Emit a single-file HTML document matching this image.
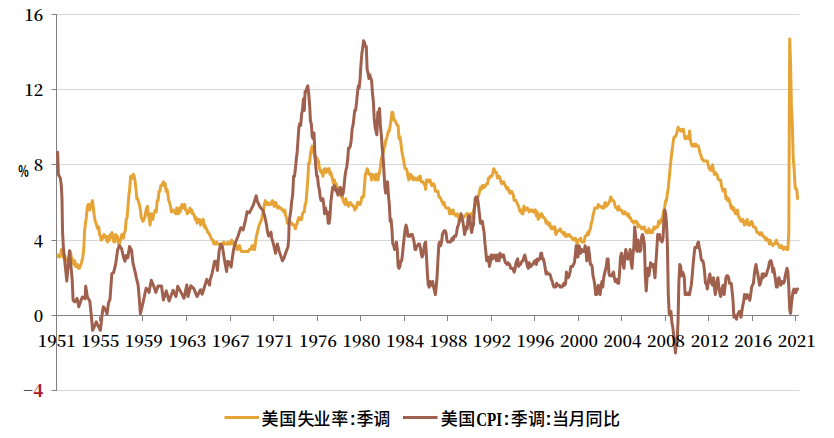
<!DOCTYPE html>
<html><head><meta charset="utf-8"><style>
html,body{margin:0;padding:0;background:#fff;}
body{width:834px;height:438px;overflow:hidden;}
svg{display:block;}
.num{font-family:"Noto Serif CJK SC","Liberation Serif",serif;font-size:16.6px;font-weight:600;fill:#000;}
.lc{font-family:"Liberation Sans","Noto Sans CJK SC",sans-serif;font-size:17px;font-weight:500;fill:#000;}
.ll{font-family:"Liberation Serif","Noto Serif CJK SC",serif;font-size:19.5px;font-weight:bold;fill:#000;}
.colon{font-weight:bold;font-size:18px;}
</style></head><body>
<svg width="834" height="438" viewBox="0 0 834 438">
<rect width="834" height="438" fill="#fff"/>
<line x1="57" y1="14.5" x2="799.5" y2="14.5" stroke="#D6D6D6"/><line x1="57" y1="89.5" x2="799.5" y2="89.5" stroke="#D6D6D6"/><line x1="57" y1="164.5" x2="799.5" y2="164.5" stroke="#D6D6D6"/><line x1="57" y1="240.5" x2="799.5" y2="240.5" stroke="#D6D6D6"/><line x1="57" y1="390.5" x2="799.5" y2="390.5" stroke="#D6D6D6"/><line x1="56.5" y1="14" x2="56.5" y2="391" stroke="#808080"/><line x1="56" y1="315.5" x2="799" y2="315.5" stroke="#808080"/><line x1="51.5" y1="14.5" x2="56.5" y2="14.5" stroke="#808080"/><line x1="51.5" y1="89.5" x2="56.5" y2="89.5" stroke="#808080"/><line x1="51.5" y1="164.5" x2="56.5" y2="164.5" stroke="#808080"/><line x1="51.5" y1="240.5" x2="56.5" y2="240.5" stroke="#808080"/><line x1="51.5" y1="315.5" x2="56.5" y2="315.5" stroke="#808080"/><line x1="51.5" y1="390.5" x2="56.5" y2="390.5" stroke="#808080"/><line x1="99.5" y1="315.5" x2="99.5" y2="321" stroke="#808080"/><line x1="142.5" y1="315.5" x2="142.5" y2="321" stroke="#808080"/><line x1="186.5" y1="315.5" x2="186.5" y2="321" stroke="#808080"/><line x1="230.5" y1="315.5" x2="230.5" y2="321" stroke="#808080"/><line x1="273.5" y1="315.5" x2="273.5" y2="321" stroke="#808080"/><line x1="317.5" y1="315.5" x2="317.5" y2="321" stroke="#808080"/><line x1="360.5" y1="315.5" x2="360.5" y2="321" stroke="#808080"/><line x1="404.5" y1="315.5" x2="404.5" y2="321" stroke="#808080"/><line x1="447.5" y1="315.5" x2="447.5" y2="321" stroke="#808080"/><line x1="491.5" y1="315.5" x2="491.5" y2="321" stroke="#808080"/><line x1="534.5" y1="315.5" x2="534.5" y2="321" stroke="#808080"/><line x1="578.5" y1="315.5" x2="578.5" y2="321" stroke="#808080"/><line x1="621.5" y1="315.5" x2="621.5" y2="321" stroke="#808080"/><line x1="665.5" y1="315.5" x2="665.5" y2="321" stroke="#808080"/><line x1="708.5" y1="315.5" x2="708.5" y2="321" stroke="#808080"/><line x1="752.5" y1="315.5" x2="752.5" y2="321" stroke="#808080"/><line x1="795.5" y1="315.5" x2="795.5" y2="321" stroke="#808080"/>
<polyline points="58.0,255.1 58.9,257.0 59.8,257.0 60.7,253.3 61.5,249.5 62.4,249.5 63.3,257.0 64.2,255.1 65.1,257.0 66.0,260.8 66.9,260.8 67.7,258.9 68.6,258.9 69.5,255.1 70.4,251.4 71.3,257.0 72.2,258.9 73.1,262.7 73.9,264.5 74.8,260.8 75.7,266.4 76.6,266.4 77.5,264.5 78.4,268.3 79.3,268.3 80.1,266.4 81.0,264.5 81.9,260.8 82.8,257.0 83.7,249.5 84.6,230.7 85.5,223.2 86.3,217.5 87.2,208.1 88.1,204.4 89.0,204.4 89.9,210.0 90.8,206.3 91.7,202.5 92.5,200.6 93.4,208.1 94.3,215.7 95.2,221.3 96.1,223.2 97.0,226.9 97.9,228.8 98.7,226.9 99.6,234.5 100.5,236.3 101.4,240.1 102.3,236.3 103.2,238.2 104.1,234.5 104.9,236.3 105.8,236.3 106.7,240.1 107.6,242.0 108.5,236.3 109.4,240.1 110.3,234.5 111.1,234.5 112.0,232.6 112.9,238.2 113.8,242.0 114.7,242.0 115.6,234.5 116.5,236.3 117.3,236.3 118.2,242.0 119.1,245.7 120.0,242.0 120.9,238.2 121.8,234.5 122.7,236.3 123.5,238.2 124.4,232.6 125.3,230.7 126.2,219.4 127.1,217.5 128.0,206.3 128.9,195.0 129.7,189.3 130.6,176.2 131.5,176.2 132.4,178.1 133.3,174.3 134.2,176.2 135.1,181.8 136.0,189.3 136.8,198.7 137.7,198.7 138.6,202.5 139.5,204.4 140.4,210.0 141.3,217.5 142.2,219.4 143.0,221.3 143.9,219.4 144.8,217.5 145.7,211.9 146.6,208.1 147.5,206.3 148.4,215.7 149.2,217.5 150.1,225.1 151.0,213.8 151.9,217.5 152.8,219.4 153.7,213.8 154.6,211.9 155.4,210.0 156.3,211.9 157.2,200.6 158.1,200.6 159.0,191.2 159.9,191.2 160.8,185.6 161.6,185.6 162.5,183.7 163.4,181.8 164.3,185.6 165.2,183.7 166.1,191.2 167.0,189.3 167.8,193.1 168.7,200.6 169.6,202.5 170.5,206.3 171.4,211.9 172.3,210.0 173.2,210.0 174.0,211.9 174.9,211.9 175.8,213.8 176.7,208.1 177.6,210.0 178.5,213.8 179.4,208.1 180.2,211.9 181.1,208.1 182.0,204.4 182.9,208.1 183.8,208.1 184.7,204.4 185.6,210.0 186.4,210.0 187.3,213.8 188.2,211.9 189.1,211.9 190.0,208.1 190.9,211.9 191.8,210.0 192.6,213.8 193.5,213.8 194.4,215.7 195.3,219.4 196.2,217.5 197.1,223.2 198.0,221.3 198.8,219.4 199.7,219.4 200.6,225.1 201.5,221.3 202.4,223.2 203.3,219.4 204.2,226.9 205.0,225.1 205.9,228.8 206.8,228.8 207.7,232.6 208.6,232.6 209.5,234.5 210.4,236.3 211.2,238.2 212.1,240.1 213.0,240.1 213.9,243.9 214.8,243.9 215.7,243.9 216.6,242.0 217.4,243.9 218.3,243.9 219.2,243.9 220.1,245.7 221.0,245.7 221.9,247.6 222.8,243.9 223.6,242.0 224.5,243.9 225.4,243.9 226.3,243.9 227.2,243.9 228.1,242.0 229.0,243.9 229.8,243.9 230.7,243.9 231.6,240.1 232.5,242.0 233.4,243.9 234.3,245.7 235.2,243.9 236.0,245.7 236.9,249.5 237.8,249.5 238.7,245.7 239.6,245.7 240.5,249.5 241.4,251.4 242.2,251.4 243.1,251.4 244.0,251.4 244.9,251.4 245.8,251.4 246.7,251.4 247.6,251.4 248.4,251.4 249.3,249.5 250.2,249.5 251.1,249.5 252.0,245.7 252.9,245.7 253.8,249.5 254.6,249.5 255.5,242.0 256.4,236.3 257.3,232.6 258.2,228.8 259.1,225.1 260.0,223.2 260.8,221.3 261.7,219.4 262.6,213.8 263.5,211.9 264.4,204.4 265.3,200.6 266.2,204.4 267.0,204.4 267.9,202.5 268.8,204.4 269.7,204.4 270.6,204.4 271.5,202.5 272.4,200.6 273.2,202.5 274.1,206.3 275.0,202.5 275.9,202.5 276.8,206.3 277.7,208.1 278.6,206.3 279.5,208.1 280.3,208.1 281.2,208.1 282.1,210.0 283.0,210.0 283.9,211.9 284.8,210.0 285.7,215.7 286.5,217.5 287.4,223.2 288.3,221.3 289.2,223.2 290.1,221.3 291.0,223.2 291.9,223.2 292.7,225.1 293.6,225.1 294.5,225.1 295.4,228.8 296.3,225.1 297.2,223.2 298.1,219.4 298.9,217.5 299.8,219.4 300.7,219.4 301.6,219.4 302.5,213.8 303.4,211.9 304.3,211.9 305.1,204.4 306.0,202.5 306.9,191.2 307.8,179.9 308.7,163.0 309.6,163.0 310.5,153.6 311.3,149.9 312.2,146.1 313.1,149.9 314.0,153.6 314.9,157.4 315.8,157.4 316.7,157.4 317.5,159.3 318.4,161.1 319.3,166.8 320.2,170.5 321.1,172.4 322.0,170.5 322.9,176.2 323.7,172.4 324.6,168.7 325.5,168.7 326.4,172.4 327.3,170.5 328.2,168.7 329.1,168.7 329.9,174.3 330.8,172.4 331.7,176.2 332.6,179.9 333.5,183.7 334.4,179.9 335.3,185.6 336.1,183.7 337.0,187.5 337.9,187.5 338.8,187.5 339.7,195.0 340.6,195.0 341.5,196.9 342.3,196.9 343.2,200.6 344.1,202.5 345.0,204.4 345.9,198.7 346.8,204.4 347.7,202.5 348.5,206.3 349.4,204.4 350.3,202.5 351.2,204.4 352.1,204.4 353.0,206.3 353.9,206.3 354.7,210.0 355.6,208.1 356.5,208.1 357.4,202.5 358.3,204.4 359.2,202.5 360.1,204.4 360.9,202.5 361.8,196.9 362.7,196.9 363.6,196.9 364.5,185.6 365.4,174.3 366.3,172.4 367.1,168.7 368.0,170.5 368.9,174.3 369.8,174.3 370.7,174.3 371.6,179.9 372.5,174.3 373.3,176.2 374.2,176.2 375.1,179.9 376.0,174.3 376.9,174.3 377.8,179.9 378.7,176.2 379.5,172.4 380.4,166.8 381.3,159.3 382.2,155.5 383.1,153.6 384.0,148.0 384.9,146.1 385.7,140.5 386.6,138.6 387.5,134.8 388.4,131.1 389.3,131.1 390.2,125.4 391.1,119.8 391.9,112.3 392.8,112.3 393.7,119.8 394.6,119.8 395.5,121.7 396.4,123.5 397.3,125.4 398.1,125.4 399.0,138.6 399.9,136.7 400.8,142.3 401.7,149.9 402.6,155.5 403.5,159.3 404.3,164.9 405.2,168.7 406.1,168.7 407.0,170.5 407.9,176.2 408.8,179.9 409.7,174.3 410.5,174.3 411.4,178.1 412.3,176.2 413.2,179.9 414.1,178.1 415.0,178.1 415.9,179.9 416.7,179.9 417.6,178.1 418.5,179.9 419.4,176.2 420.3,176.2 421.2,181.8 422.1,181.8 422.9,181.8 423.8,183.7 424.7,183.7 425.6,189.3 426.5,179.9 427.4,179.9 428.3,181.8 429.2,179.9 430.0,179.9 430.9,183.7 431.8,185.6 432.7,183.7 433.6,183.7 434.5,185.6 435.4,191.2 436.2,191.2 437.1,191.2 438.0,191.2 438.9,196.9 439.8,196.9 440.7,198.7 441.6,200.6 442.4,202.5 443.3,204.4 444.2,202.5 445.1,206.3 446.0,208.1 446.9,208.1 447.8,208.1 448.6,208.1 449.5,213.8 450.4,210.0 451.3,213.8 452.2,213.8 453.1,210.0 454.0,213.8 454.8,213.8 455.7,215.7 456.6,215.7 457.5,213.8 458.4,217.5 459.3,221.3 460.2,217.5 461.0,217.5 461.9,215.7 462.8,217.5 463.7,217.5 464.6,215.7 465.5,215.7 466.4,213.8 467.2,213.8 468.1,213.8 469.0,215.7 469.9,217.5 470.8,213.8 471.7,213.8 472.6,217.5 473.4,211.9 474.3,208.1 475.2,204.4 476.1,204.4 477.0,198.7 477.9,196.9 478.8,195.0 479.6,191.2 480.5,187.5 481.4,189.3 482.3,185.6 483.2,185.6 484.1,187.5 485.0,185.6 485.8,185.6 486.7,183.7 487.6,183.7 488.5,178.1 489.4,178.1 490.3,176.2 491.2,176.2 492.0,176.2 492.9,172.4 493.8,168.7 494.7,170.5 495.6,172.4 496.5,172.4 497.4,178.1 498.2,176.2 499.1,176.2 500.0,178.1 500.9,181.8 501.8,183.7 502.7,181.8 503.6,181.8 504.4,183.7 505.3,185.6 506.2,187.5 507.1,189.3 508.0,187.5 508.9,191.2 509.8,193.1 510.6,191.2 511.5,191.2 512.4,193.1 513.3,195.0 514.2,200.6 515.1,200.6 516.0,200.6 516.8,202.5 517.7,204.4 518.6,206.3 519.5,210.0 520.4,211.9 521.3,210.0 522.2,213.8 523.0,213.8 523.9,206.3 524.8,210.0 525.7,210.0 526.6,208.1 527.5,208.1 528.4,210.0 529.2,211.9 530.1,210.0 531.0,210.0 531.9,210.0 532.8,211.9 533.7,211.9 534.6,210.0 535.4,210.0 536.3,215.7 537.2,211.9 538.1,219.4 539.0,217.5 539.9,217.5 540.8,213.8 541.6,213.8 542.5,215.7 543.4,217.5 544.3,217.5 545.2,219.4 546.1,223.2 547.0,221.3 547.8,223.2 548.7,225.1 549.6,223.2 550.5,226.9 551.4,228.8 552.3,226.9 553.2,228.8 554.0,228.8 554.9,226.9 555.8,234.5 556.7,232.6 557.6,230.7 558.5,230.7 559.4,230.7 560.2,228.8 561.1,230.7 562.0,232.6 562.9,232.6 563.8,234.5 564.7,232.6 565.6,236.3 566.4,234.5 567.3,236.3 568.2,234.5 569.1,234.5 570.0,236.3 570.9,236.3 571.8,238.2 572.6,238.2 573.5,240.1 574.4,240.1 575.3,238.2 576.2,240.1 577.1,243.9 578.0,240.1 578.9,240.1 579.7,240.1 580.6,238.2 581.5,242.0 582.4,242.0 583.3,242.0 584.2,242.0 585.1,236.3 585.9,236.3 586.8,234.5 587.7,232.6 588.6,234.5 589.5,230.7 590.4,228.8 591.3,223.2 592.1,221.3 593.0,215.7 593.9,211.9 594.8,208.1 595.7,208.1 596.6,208.1 597.5,208.1 598.3,204.4 599.2,206.3 600.1,206.3 601.0,206.3 601.9,208.1 602.8,208.1 603.7,208.1 604.5,204.4 605.4,202.5 606.3,206.3 607.2,204.4 608.1,204.4 609.0,202.5 609.9,200.6 610.7,196.9 611.6,198.7 612.5,200.6 613.4,200.6 614.3,202.5 615.2,206.3 616.1,208.1 616.9,208.1 617.8,210.0 618.7,206.3 619.6,210.0 620.5,210.0 621.4,210.0 622.3,211.9 623.1,213.8 624.0,213.8 624.9,211.9 625.8,213.8 626.7,213.8 627.6,215.7 628.5,213.8 629.3,217.5 630.2,217.5 631.1,219.4 632.0,221.3 632.9,221.3 633.8,223.2 634.7,221.3 635.5,221.3 636.4,221.3 637.3,223.2 638.2,226.9 639.1,225.1 640.0,226.9 640.9,226.9 641.7,228.8 642.6,228.8 643.5,226.9 644.4,226.9 645.3,230.7 646.2,232.6 647.1,230.7 647.9,232.6 648.8,228.8 649.7,230.7 650.6,232.6 651.5,230.7 652.4,232.6 653.3,228.8 654.1,226.9 655.0,228.8 655.9,226.9 656.8,226.9 657.7,226.9 658.6,221.3 659.5,221.3 660.3,223.2 661.2,219.4 662.1,221.3 663.0,213.8 663.9,210.0 664.8,206.3 665.7,200.6 666.5,200.6 667.4,193.1 668.3,187.5 669.2,178.1 670.1,168.7 671.0,159.3 671.9,151.7 672.7,146.1 673.6,138.6 674.5,136.7 675.4,136.7 676.3,134.8 677.2,131.1 678.1,127.3 678.9,129.2 679.8,129.2 680.7,131.1 681.6,131.1 682.5,129.2 683.4,129.2 684.3,134.8 685.1,138.6 686.0,138.6 686.9,136.7 687.8,136.7 688.7,138.6 689.6,131.1 690.5,140.5 691.3,144.2 692.2,146.1 693.1,146.1 694.0,144.2 694.9,146.1 695.8,144.2 696.7,146.1 697.5,146.1 698.4,146.1 699.3,149.9 700.2,153.6 701.1,155.5 702.0,159.3 702.9,159.3 703.7,161.1 704.6,161.1 705.5,161.1 706.4,161.1 707.3,161.1 708.2,164.9 709.1,168.7 709.9,168.7 710.8,170.5 711.7,166.8 712.6,164.9 713.5,170.5 714.4,174.3 715.3,172.4 716.1,174.3 717.0,174.3 717.9,178.1 718.8,179.9 719.7,179.9 720.6,179.9 721.5,185.6 722.4,189.3 723.2,191.2 724.1,189.3 725.0,189.3 725.9,198.7 726.8,196.9 727.7,200.6 728.6,198.7 729.4,200.6 730.3,204.4 731.2,208.1 732.1,206.3 733.0,210.0 733.9,208.1 734.8,211.9 735.6,213.8 736.5,213.8 737.4,210.0 738.3,215.7 739.2,217.5 740.1,219.4 741.0,221.3 741.8,221.3 742.7,219.4 743.6,221.3 744.5,225.1 745.4,223.2 746.3,221.3 747.2,219.4 748.0,225.1 748.9,223.2 749.8,225.1 750.7,223.2 751.6,221.3 752.5,223.2 753.4,226.9 754.2,226.9 755.1,226.9 756.0,228.8 756.9,232.6 757.8,232.6 758.7,232.6 759.6,234.5 760.4,234.5 761.3,232.6 762.2,234.5 763.1,236.3 764.0,236.3 764.9,238.2 765.8,240.1 766.6,238.2 767.5,240.1 768.4,240.1 769.3,243.9 770.2,240.1 771.1,243.9 772.0,243.9 772.8,245.7 773.7,243.9 774.6,243.9 775.5,242.0 776.4,240.1 777.3,243.9 778.2,243.9 779.0,245.7 779.9,247.6 780.8,247.6 781.7,245.7 782.6,247.6 783.5,249.5 784.4,247.6 785.2,247.6 786.1,247.6 787.0,249.5 787.9,249.5 788.8,232.6 789.7,38.9 790.6,65.3 791.4,106.6 792.3,123.5 793.2,157.4 794.1,168.7 795.0,185.6 795.9,189.3 796.8,189.3 797.6,198.7" fill="none" stroke="#E6A436" stroke-width="3" stroke-linejoin="round" stroke-linecap="round"/>
<polyline points="57.6,152.3 58.0,163.0 58.3,174.3 60.3,178.1 61.3,185.6 62.0,198.7 62.5,230.7 63.4,247.6 66.8,281.1 69.5,250.8 72.2,279.6 73.1,300.4 74.8,301.8 77.1,298.4 78.8,306.8 80.5,301.8 82.3,297.1 85.1,298.8 85.7,286.3 87.4,297.1 89.8,301.2 91.3,315.3 92.6,330.3 94.0,327.5 96.3,321.9 98.5,326.6 100.4,330.3 102.0,315.3 103.3,306.7 105.5,309.7 107.0,314.0 108.5,302.9 110.0,299.3 111.8,273.8 113.6,272.6 115.8,263.4 117.6,249.9 119.3,245.7 121.6,248.7 123.8,258.3 125.0,261.3 126.1,255.5 127.8,257.8 129.5,246.5 131.5,249.9 133.0,263.4 135.3,272.6 136.4,278.1 138.1,284.8 139.3,298.6 140.4,314.0 142.7,304.2 144.4,296.3 146.1,288.2 147.8,289.9 149.0,292.4 151.3,280.3 154.1,287.1 155.8,292.4 158.1,286.0 161.5,286.0 163.4,300.1 166.3,290.9 169.1,301.0 173.1,290.3 176.0,296.5 177.7,286.3 180.5,291.4 184.0,298.2 186.8,285.0 188.0,296.5 190.8,285.8 193.7,288.4 197.0,296.5 200.5,289.7 202.2,294.2 206.8,279.4 209.6,285.0 210.0,280.7 212.3,272.6 214.6,261.3 216.3,261.3 217.4,270.4 219.1,251.0 220.8,244.0 222.6,247.6 224.3,259.1 226.6,271.5 227.7,261.3 229.4,262.5 231.1,267.0 232.8,254.4 234.0,247.6 235.7,241.8 238.0,236.2 240.8,227.7 243.1,229.9 245.4,220.7 247.1,211.7 249.4,212.8 253.4,204.8 256.2,195.7 257.3,201.4 260.1,207.0 263.0,210.6 264.7,216.2 266.4,224.1 267.6,232.2 268.7,236.0 271.0,232.2 271.6,237.3 273.8,245.4 275.5,253.3 277.3,244.0 279.5,252.1 282.4,260.8 284.1,257.8 286.4,251.0 288.1,246.5 288.7,238.4 289.2,221.3 291.0,209.5 291.5,202.7 292.7,194.6 293.6,176.2 294.5,176.2 295.4,168.7 296.3,159.3 297.2,151.7 298.1,138.6 298.9,127.3 299.8,123.5 300.7,125.4 301.6,114.1 302.5,110.4 303.4,99.1 304.3,110.4 305.1,91.6 306.0,91.6 306.9,87.8 307.8,85.9 308.7,93.5 309.6,104.7 310.5,121.7 311.3,123.5 312.2,136.7 313.1,138.6 314.0,132.9 314.9,153.6 315.8,166.8 316.7,176.2 317.5,176.2 318.4,185.6 319.3,189.3 320.2,196.9 321.1,200.6 322.0,200.6 322.9,198.7 323.7,204.4 324.6,213.8 325.5,208.1 326.4,211.9 327.3,211.9 328.2,223.2 329.1,223.2 329.9,217.5 330.8,202.5 331.7,195.0 332.6,187.5 333.5,189.3 334.4,185.6 335.3,187.5 336.1,191.2 337.0,191.2 337.9,195.0 338.8,189.3 339.7,189.3 340.6,187.5 341.5,195.0 342.3,195.0 343.2,193.1 344.1,185.6 345.0,176.2 345.9,170.5 346.8,166.8 347.7,159.3 348.5,148.0 349.4,148.0 350.3,146.1 351.2,140.5 352.1,129.2 353.0,125.4 353.9,117.9 354.7,110.4 355.6,110.4 356.5,102.9 357.4,93.5 358.3,85.9 359.2,87.8 360.1,78.4 360.9,65.3 361.8,54.0 362.7,48.3 363.6,40.8 364.5,42.7 365.4,46.5 366.3,46.5 367.1,69.0 368.0,72.8 368.9,78.4 369.8,74.7 370.7,78.4 371.6,80.3 372.5,93.5 373.3,101.0 374.2,117.9 375.1,127.3 376.0,131.1 376.9,134.8 377.8,112.3 378.7,112.3 379.5,108.5 380.4,125.4 381.3,134.8 382.2,148.0 383.1,157.4 384.0,172.4 384.9,187.5 385.7,193.1 386.6,189.3 387.5,181.8 388.4,195.0 389.3,204.4 390.2,221.3 391.1,219.4 391.9,228.8 392.8,243.9 393.7,245.7 394.6,249.5 395.5,247.6 396.4,242.0 397.3,249.5 398.1,266.4 399.0,268.3 399.9,266.4 400.8,260.8 401.7,260.8 402.6,253.3 403.5,243.9 404.3,236.3 405.2,228.8 406.1,225.1 407.0,228.8 407.9,236.3 408.8,236.3 409.7,236.3 410.5,234.5 411.4,234.5 412.3,234.5 413.2,238.2 414.1,242.0 415.0,249.5 415.9,249.5 416.7,245.7 417.6,245.7 418.5,243.9 419.4,243.9 420.3,247.6 421.2,253.3 422.1,257.0 422.9,255.1 423.8,249.5 424.7,243.9 425.6,242.0 426.5,257.0 427.4,273.9 428.3,285.2 429.2,287.1 430.0,281.5 430.9,285.2 431.8,285.2 432.7,281.5 433.6,287.1 434.5,290.9 435.4,294.6 436.2,287.1 437.1,275.8 438.0,258.9 438.9,243.9 439.8,242.0 440.7,245.7 441.6,242.0 442.4,234.5 443.3,232.6 444.2,230.7 445.1,230.7 446.0,232.6 446.9,240.1 447.8,242.0 448.6,242.0 449.5,242.0 450.4,242.0 451.3,240.1 452.2,238.2 453.1,240.1 454.0,236.3 454.8,236.3 455.7,236.3 456.6,232.6 457.5,226.9 458.4,225.1 459.3,221.3 460.2,219.4 461.0,213.8 461.9,217.5 462.8,221.3 463.7,226.9 464.6,234.5 465.5,230.7 466.4,226.9 467.2,228.8 468.1,217.5 469.0,215.7 469.9,217.5 470.8,226.9 471.7,232.6 472.6,226.9 473.4,225.1 474.3,210.0 475.2,198.7 476.1,196.9 477.0,196.9 477.9,200.6 478.8,208.1 479.6,215.7 480.5,223.2 481.4,223.2 482.3,221.3 483.2,226.9 484.1,232.6 485.0,243.9 485.8,251.4 486.7,260.8 487.6,258.9 488.5,257.0 489.4,266.4 490.3,262.7 491.2,255.1 492.0,255.1 492.9,258.9 493.8,257.0 494.7,255.1 495.6,257.0 496.5,260.8 497.4,255.1 498.2,258.9 499.1,260.8 500.0,253.3 500.9,255.1 501.8,257.0 502.7,255.1 503.6,255.1 504.4,258.9 505.3,262.7 506.2,262.7 507.1,264.5 508.0,262.7 508.9,264.5 509.8,264.5 510.6,268.3 511.5,268.3 512.4,268.3 513.3,270.2 514.2,272.1 515.1,268.3 516.0,262.7 516.8,260.8 517.7,258.9 518.6,266.4 519.5,264.5 520.4,264.5 521.3,262.7 522.2,260.8 523.0,260.8 523.9,257.0 524.8,255.1 525.7,258.9 526.6,262.7 527.5,266.4 528.4,268.3 529.2,262.7 530.1,266.4 531.0,266.4 531.9,264.5 532.8,264.5 533.7,262.7 534.6,260.8 535.4,260.8 536.3,264.5 537.2,258.9 538.1,260.8 539.0,258.9 539.9,258.9 540.8,253.3 541.6,253.3 542.5,258.9 543.4,258.9 544.3,262.7 545.2,268.3 546.1,273.9 547.0,272.1 547.8,273.9 548.7,273.9 549.6,273.9 550.5,275.8 551.4,279.6 552.3,281.5 553.2,285.2 554.0,287.1 554.9,287.1 555.8,287.1 556.7,283.3 557.6,285.2 558.5,285.2 559.4,285.2 560.2,287.1 561.1,287.1 562.0,287.1 562.9,285.2 563.8,283.3 564.7,285.2 565.6,283.3 566.4,272.1 567.3,275.8 568.2,277.7 569.1,275.8 570.0,272.1 570.9,266.4 571.8,266.4 572.6,266.4 573.5,264.5 574.4,262.7 575.3,255.1 576.2,245.7 577.1,257.0 578.0,257.0 578.9,245.7 579.7,247.6 580.6,253.3 581.5,249.5 582.4,251.4 583.3,251.4 584.2,251.4 585.1,245.7 585.9,249.5 586.8,260.8 587.7,253.3 588.6,247.6 589.5,255.1 590.4,264.5 591.3,264.5 592.1,266.4 593.0,275.8 593.9,279.6 594.8,285.2 595.7,294.6 596.6,294.6 597.5,289.0 598.3,285.2 599.2,292.7 600.1,294.6 601.0,287.1 601.9,281.5 602.8,287.1 603.7,277.7 604.5,273.9 605.4,270.2 606.3,266.4 607.2,258.9 608.1,258.9 609.0,273.9 609.9,275.8 610.7,275.8 611.6,275.8 612.5,273.9 613.4,272.1 614.3,277.7 615.2,281.5 616.1,279.6 616.9,279.6 617.8,283.3 618.7,283.3 619.6,272.1 620.5,257.0 621.4,253.3 622.3,258.9 623.1,264.5 624.0,268.3 624.9,255.1 625.8,249.5 626.7,253.3 627.6,258.9 628.5,258.9 629.3,257.0 630.2,249.5 631.1,262.7 632.0,268.3 632.9,255.1 633.8,247.6 634.7,226.9 635.5,234.5 636.4,249.5 637.3,251.4 638.2,240.1 639.1,247.6 640.0,251.4 640.9,249.5 641.7,236.3 642.6,234.5 643.5,238.2 644.4,243.9 645.3,275.8 646.2,290.9 647.1,277.7 647.9,268.3 648.8,275.8 649.7,270.2 650.6,262.7 651.5,266.4 652.4,264.5 653.3,264.5 654.1,270.2 655.0,277.7 655.9,262.7 656.8,249.5 657.7,234.5 658.6,238.2 659.5,234.5 660.3,240.1 661.2,240.1 662.1,242.0 663.0,238.2 663.9,221.3 664.8,210.0 665.7,213.8 666.5,223.2 667.4,245.7 668.3,294.6 669.2,313.4 670.1,315.3 671.0,311.5 671.9,322.8 672.7,326.6 673.6,334.1 674.5,341.6 675.4,352.9 676.3,343.5 677.2,339.7 678.1,319.1 678.9,281.5 679.8,264.5 680.7,266.4 681.6,275.8 682.5,272.1 683.4,273.9 684.3,277.7 685.1,294.6 686.0,292.7 686.9,294.6 687.8,294.6 688.7,292.7 689.6,294.6 690.5,289.0 691.3,285.2 692.2,275.8 693.1,264.5 694.0,255.1 694.9,247.6 695.8,247.6 696.7,247.6 697.5,243.9 698.4,242.0 699.3,247.6 700.2,251.4 701.1,258.9 702.0,260.8 702.9,260.8 703.7,264.5 704.6,272.1 705.5,283.3 706.4,283.3 707.3,289.0 708.2,283.3 709.1,277.7 709.9,273.9 710.8,281.5 711.7,283.3 712.6,285.2 713.5,277.7 714.4,287.1 715.3,294.6 716.1,289.0 717.0,281.5 717.9,277.7 718.8,287.1 719.7,292.7 720.6,296.5 721.5,292.7 722.4,287.1 723.2,285.2 724.1,294.6 725.0,287.1 725.9,277.7 726.8,275.8 727.7,275.8 728.6,277.7 729.4,283.3 730.3,283.3 731.2,283.3 732.1,290.9 733.0,300.3 733.9,317.2 734.8,315.3 735.6,317.2 736.5,319.1 737.4,315.3 738.3,313.4 739.2,311.5 740.1,311.5 741.0,317.2 741.8,311.5 742.7,305.9 743.6,302.1 744.5,294.6 745.4,296.5 746.3,298.4 747.2,294.6 748.0,296.5 748.9,296.5 749.8,300.3 750.7,294.6 751.6,287.1 752.5,285.2 753.4,283.3 754.2,275.8 755.1,268.3 756.0,264.5 756.9,270.2 757.8,273.9 758.7,279.6 759.6,285.2 760.4,283.3 761.3,279.6 762.2,273.9 763.1,277.7 764.0,273.9 764.9,275.8 765.8,275.8 766.6,273.9 767.5,270.2 768.4,268.3 769.3,262.7 770.2,260.8 771.1,260.8 772.0,264.5 772.8,272.1 773.7,268.3 774.6,273.9 775.5,279.6 776.4,287.1 777.3,287.1 778.2,279.6 779.0,277.7 779.9,281.5 780.8,285.2 781.7,281.5 782.6,283.3 783.5,283.3 784.4,281.5 785.2,275.8 786.1,272.1 787.0,268.3 787.9,272.1 788.8,287.1 789.7,309.7 790.6,313.4 791.4,304.0 792.3,296.5 793.2,290.9 794.1,289.0 795.0,292.7 795.9,292.7 796.8,289.0 797.6,289.0" fill="none" stroke="#A0604E" stroke-width="3" stroke-linejoin="round" stroke-linecap="round"/>
<g class="num">
<text x="43.3" y="20.8" text-anchor="end">16</text><text x="43.3" y="95.8" text-anchor="end">12</text><text x="43.3" y="170.8" text-anchor="end">8</text><text x="43.3" y="246.8" text-anchor="end">4</text><text x="43.3" y="321.8" text-anchor="end">0</text>
<text x="43.3" y="396.8" text-anchor="end"><tspan style="fill:#2a1a1a;font-weight:600">−</tspan><tspan style="fill:#A8202C;font-weight:900">4</tspan></text>
<text x="56.7" y="347" text-anchor="middle">1951</text><text x="100.2" y="347" text-anchor="middle">1955</text><text x="143.8" y="347" text-anchor="middle">1959</text><text x="187.3" y="347" text-anchor="middle">1963</text><text x="230.8" y="347" text-anchor="middle">1967</text><text x="274.4" y="347" text-anchor="middle">1971</text><text x="317.9" y="347" text-anchor="middle">1976</text><text x="361.4" y="347" text-anchor="middle">1980</text><text x="404.9" y="347" text-anchor="middle">1984</text><text x="448.5" y="347" text-anchor="middle">1988</text><text x="492.0" y="347" text-anchor="middle">1992</text><text x="535.5" y="347" text-anchor="middle">1996</text><text x="579.1" y="347" text-anchor="middle">2000</text><text x="622.6" y="347" text-anchor="middle">2004</text><text x="666.1" y="347" text-anchor="middle">2008</text><text x="709.7" y="347" text-anchor="middle">2012</text><text x="753.2" y="347" text-anchor="middle">2016</text><text x="796.7" y="347" text-anchor="middle">2021</text>
</g>
<text x="23.5" y="177" text-anchor="middle" transform="translate(23.5 0) scale(0.68 1) translate(-23.5 0)" style="font-family:'Noto Sans CJK SC',sans-serif;font-weight:bold;font-size:16px">%</text>
<line x1="224.5" y1="417.5" x2="259" y2="417.5" stroke="#E6A436" stroke-width="3"/>
<text class="lc" y="425" text-anchor="middle" x="270 287.8 306 321.9 339.7">美国失业率<tspan class="colon" x="352.7">:</tspan><tspan x="364.9 381.7">季调</tspan></text>
<line x1="403" y1="417.5" x2="437.5" y2="417.5" stroke="#A0604E" stroke-width="3"/>
<text class="lc" y="425" text-anchor="middle" x="449.3 466.7">美国<tspan class="ll" x="476.2" y="426" style="text-anchor:start" textLength="26" lengthAdjust="spacingAndGlyphs">CPI</tspan><tspan class="colon" x="506.5" y="425">:</tspan><tspan x="519.2 536.5">季调</tspan><tspan class="colon" x="548.5">:</tspan><tspan x="560.5 577 594 611.6">当月同比</tspan></text>
</svg>
</body></html>
